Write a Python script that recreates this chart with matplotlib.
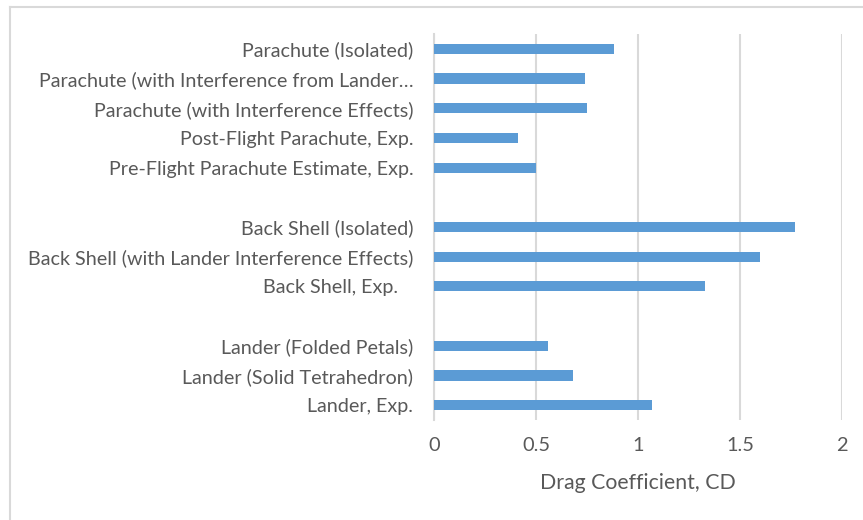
import matplotlib.pyplot as plt
from matplotlib.lines import Line2D

# Drag coefficients by component, top to bottom; blank rows separate the groups
labels = [
    "Parachute (Isolated)",
    "Parachute (with Interference from Lander\u2026",
    "Parachute (with Interference Effects)",
    "Post-Flight Parachute, Exp.",
    "Pre-Flight Parachute Estimate, Exp.",
    "",
    "Back Shell (Isolated)",
    "Back Shell (with Lander Interference Effects)",
    "Back Shell, Exp.   ",
    "",
    "Lander (Folded Petals)",
    "Lander (Solid Tetrahedron)",
    "Lander, Exp.",
]
cd = [0.88, 0.74, 0.75, 0.41, 0.50, None, 1.77, 1.60, 1.33, None, 0.56, 0.68, 1.07]
xticks = [0, 0.5, 1, 1.5, 2]

plt.rcParams['font.family'] = ['Lato', 'DejaVu Sans']
text_gray = "#595959"
bar_blue = "#5b9bd5"
grid_gray = "#d9d9d9"

fig = plt.figure(figsize=(8.63, 5.2), dpi=100)
ax = fig.add_axes([434 / 863, 1 - 420 / 520, (842 - 434) / 863, (420 - 34) / 520])

ypos = list(range(len(labels)))
vals = [v if v is not None else 0 for v in cd]
ax.barh(ypos, vals, height=0.34, color=bar_blue, zorder=3)

ax.set_ylim(len(labels) - 0.5, -0.5)
ax.set_xlim(0, 2)
ax.set_yticks(ypos)
ax.set_yticklabels(labels, fontsize=14.2, color=text_gray)
ax.set_xticks(xticks)
ax.set_xticklabels([f"{t:g}" for t in xticks], fontsize=14.4, color=text_gray)
ax.tick_params(axis="both", length=0)
ax.tick_params(axis="y", pad=15)
ax.tick_params(axis="x", pad=12)

ax.grid(axis="x", color=grid_gray, linewidth=1.5, zorder=0)
for side in ["top", "right", "bottom"]:
    ax.spines[side].set_visible(False)
ax.spines["left"].set_color(grid_gray)
ax.spines["left"].set_linewidth(1.5)

ax.set_xlabel("Drag Coefficient, CD", fontsize=15.3, color=text_gray, labelpad=14)

# light frame around the chart area (left and top edges only)
fig.add_artist(Line2D([10 / 863, 10 / 863], [0, 1 - 7 / 520], color="#d9d9d9", linewidth=1.5,
                      transform=fig.transFigure))
fig.add_artist(Line2D([10 / 863, 1], [1 - 7 / 520, 1 - 7 / 520], color="#d9d9d9", linewidth=1.5,
                      transform=fig.transFigure))

fig.savefig("out.png", dpi=100, facecolor="white")
